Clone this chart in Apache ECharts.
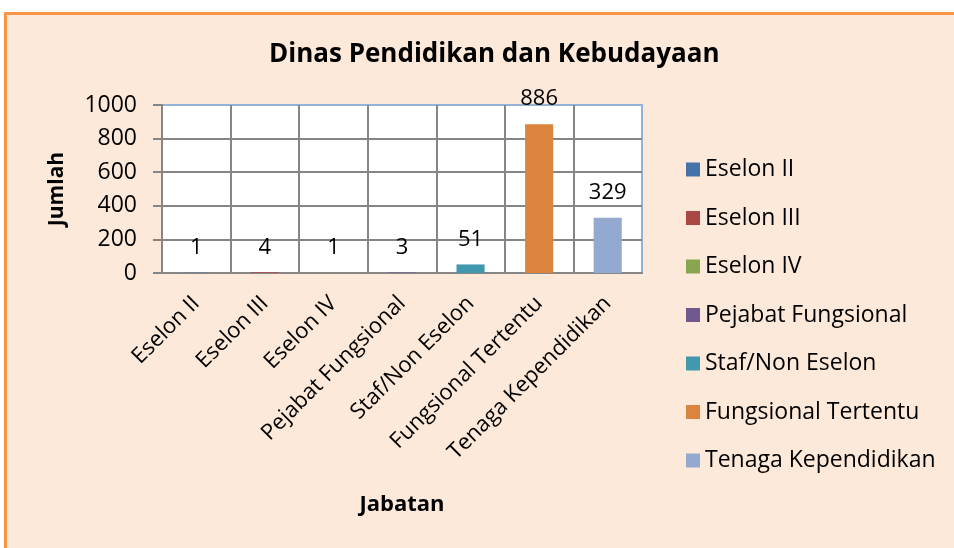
<!DOCTYPE html>
<html>
<head>
<meta charset="utf-8">
<script src="https://cdn.jsdelivr.net/npm/echarts@6/dist/echarts.min.js"></script>
<style>
  html, body { margin: 0; padding: 0; background: #fff; }
  .frame {
    position: absolute; left: 4px; top: 12px; width: 970px; height: 560px;
    background: #FDE9D9; border: 3px solid #F79646; box-sizing: border-box;
  }
  #chart { position: absolute; left: 0; top: 0; width: 954px; height: 548px; }
</style>
</head>
<body>
<div class="frame"></div>
<div id="chart"></div>
<script>
// kategori jabatan dan jumlah pegawai
const categories = ['Eselon II', 'Eselon III', 'Eselon IV', 'Pejabat Fungsional', 'Staf/Non Eselon', 'Fungsional Tertentu', 'Tenaga Kependidikan'];
const values = [1, 4, 1, 3, 51, 886, 329];
const colors = ['#4572A7', '#AA4643', '#89A54E', '#71588F', '#4198AF', '#DB843D', '#93A9CF'];
const yTicks = [0, 200, 400, 600, 800, 1000];

const font = '"Open Sans", sans-serif';

// satu seri per kategori supaya legenda menampilkan tiap jabatan
const series = categories.map((name, i) => ({
  name: name,
  type: 'bar',
  stack: 'total',
  barWidth: '41%',
  itemStyle: { color: colors[i] },
  label: {
    show: true,
    position: 'top',
    distance: 14,
    color: '#000',
    fontSize: 22,
    fontFamily: font
  },
  data: categories.map((c, j) => (j === i ? values[i] : '-'))
}));

const myChart = echarts.init(document.getElementById('chart'));
myChart.setOption({
  animation: false,
  backgroundColor: 'transparent',
  title: {
    text: 'Dinas Pendidikan dan Kebudayaan',
    left: 264,
    top: 37,
    textStyle: { fontSize: 26, fontWeight: 'bold', color: '#000', fontFamily: font }
  },
  legend: {
    orient: 'vertical',
    left: 681,
    top: 153,
    itemWidth: 14,
    itemHeight: 14,
    itemGap: 25.5,
    icon: 'rect',
    textStyle: { fontSize: 23, color: '#000', fontFamily: font },
    data: categories
  },
  grid: {
    left: 162,
    right: 312,
    top: 105,
    bottom: 275,
    show: true,
    backgroundColor: '#fff',
    borderColor: '#95B3D7',
    borderWidth: 2
  },
  xAxis: {
    type: 'category',
    data: categories,
    name: 'Jabatan',
    nameLocation: 'middle',
    nameGap: 221,
    nameTextStyle: { fontSize: 22, fontWeight: 'bold', color: '#000', fontFamily: font },
    axisLine: { lineStyle: { color: '#868686', width: 2 } },
    axisTick: { show: false },
    axisLabel: {
      rotate: 45,
      interval: 0,
      margin: 27,
      fontSize: 22,
      color: '#000',
      fontFamily: font
    },
    splitLine: { show: true, showMaxLine: false, showMinLine: false, lineStyle: { color: '#868686', width: 2 } }
  },
  yAxis: {
    type: 'value',
    min: yTicks[0],
    max: yTicks[yTicks.length - 1],
    interval: 200,
    name: 'Jumlah',
    nameLocation: 'middle',
    nameGap: 94,
    nameTextStyle: { fontSize: 21, fontWeight: 'bold', color: '#000', fontFamily: font },
    axisLine: { show: true, lineStyle: { color: '#868686', width: 2 } },
    axisTick: { show: true, length: 9, lineStyle: { color: '#868686', width: 2 } },
    axisLabel: { fontSize: 23, color: '#000', margin: 25, fontFamily: font, formatter: v => String(v) },
    splitLine: { show: true, showMaxLine: false, lineStyle: { color: '#868686', width: 2 } }
  },
  series: series
});

window.addEventListener('resize', () => myChart.resize());
</script>
</body>
</html>
